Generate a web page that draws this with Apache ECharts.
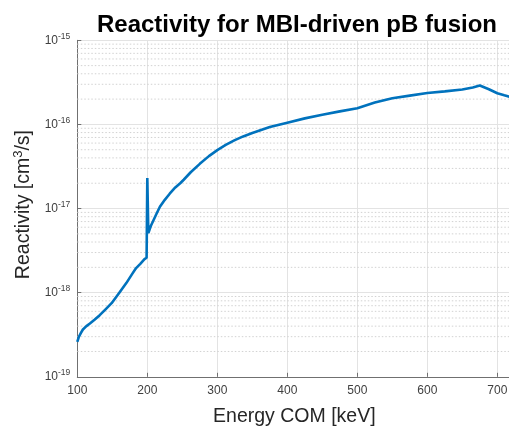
<!DOCTYPE html>
<html>
<head>
<meta charset="utf-8">
<script src="https://cdn.jsdelivr.net/npm/echarts@6/dist/echarts.min.js"></script>
<style>html,body{margin:0;padding:0;background:#fff;}#c{width:509px;height:426px;}</style>
</head>
<body>
<div id="c"></div>
<script>
const energy = [100,102,105,108,113,118,125,132,140,149,160,170,178,184,190,196,199,200,201.5,205,209,213,218,225,232,240,247,252,262,275,288,300,312,325,337,350,375,400,425,450,475,500,525,550,575,600,625,650,665,675,688,700,710,720];
const reactivity = [2.6e-19,2.95e-19,3.3e-19,3.65e-19,4.0e-19,4.3e-19,4.8e-19,5.4e-19,6.3e-19,7.5e-19,1.0e-18,1.3e-18,1.65e-18,1.96e-18,2.2e-18,2.5e-18,2.6e-18,2.3e-17,5.1e-18,6.2e-18,7.3e-18,8.6e-18,1.05e-17,1.27e-17,1.5e-17,1.78e-17,2.0e-17,2.2e-17,2.7e-17,3.4e-17,4.2e-17,4.95e-17,5.7e-17,6.5e-17,7.2e-17,7.9e-17,9.3e-17,1.05e-16,1.18e-16,1.3e-16,1.43e-16,1.56e-16,1.82e-16,2.05e-16,2.2e-16,2.36e-16,2.47e-16,2.6e-16,2.75e-16,2.9e-16,2.62e-16,2.35e-16,2.22e-16,2.1e-16];
const xTicks = [100,200,300,400,500,600,700];
const xRange = [100, 720];
const yDecades = [1e-19,1e-18,1e-17,1e-16,1e-15];
const minorMultipliers = [2,3,4,5,6,7,8,9];

const minorValues = [];
for (let d = 0; d < yDecades.length - 1; d++) {
  for (const m of minorMultipliers) minorValues.push(yDecades[d] * m);
}
const font = '"Liberation Sans", Arial, Helvetica, sans-serif';
const minorSeries = minorValues.map(v => ({
  type: 'line', silent: true, showSymbol: false, symbol: 'none', z: 1,
  data: [[xRange[0], v], [xRange[1], v]],
  lineStyle: { color: '#d2d2d2', type: [1.5, 2], width: 1 },
  emphasis: { disabled: true }, tooltip: { show: false }
}));
const chart = echarts.init(document.getElementById('c'));
chart.setOption({
  animation: false,
  title: {
    text: 'Reactivity for MBI-driven pB fusion',
    left: 292, textAlign: 'center', top: 8,
    textStyle: { fontFamily: font, fontWeight: 'bold', fontSize: 24, color: '#000' }
  },
  grid: { left: 77.3, top: 40.3, right: -2.3, bottom: 49.2, containLabel: false, outerBoundsMode: 'none' },
  xAxis: {
    type: 'value', min: xRange[0], max: xRange[1], interval: 100,
    name: 'Energy COM [keV]', nameLocation: 'middle', nameGap: 30,
    nameTextStyle: { fontFamily: font, fontSize: 19.5, color: '#262626' },
    axisLine: { lineStyle: { color: '#707070', width: 1 } },
    axisTick: { inside: true, length: 4, lineStyle: { color: '#707070' } },
    axisLabel: { fontFamily: font, fontSize: 12, color: '#404040', margin: 8,
      formatter: v => (xTicks.indexOf(v) >= 0 ? String(v) : ''), showMaxLabel: false },
    splitLine: { show: true, lineStyle: { color: '#e3e3e3', width: 1 } }
  },
  yAxis: {
    type: 'log', logBase: 10, min: 1e-19, max: 1e-15,
    name: 'Reactivity [cm{sup|3}/s]', nameLocation: 'middle', nameGap: 42,
    nameTextStyle: { fontFamily: font, fontSize: 19.5, color: '#262626', padding: [0, 0, 0, 8],
      rich: { sup: { fontFamily: font, fontSize: 13, color: '#262626', padding: [0,0,10,0] } } },
    axisLine: { show: true, lineStyle: { color: '#707070', width: 1 } },
    axisTick: { inside: true, length: 4, lineStyle: { color: '#707070' } },
    axisLabel: { fontFamily: font, fontSize: 12, color: '#404040', margin: 7,
      formatter: v => '{b|10}{s|' + Math.round(Math.log10(v)) + '}',
      rich: {
        b: { fontFamily: font, fontSize: 12, color: '#404040' },
        s: { fontFamily: font, fontSize: 8.5, color: '#404040', padding: [0,0,8,0] }
      } },
    splitLine: { show: true, lineStyle: { color: '#e3e3e3', width: 1 } }
  },
  series: minorSeries.concat([
    {
      type: 'line', showSymbol: false, symbol: 'none', smooth: false, z: 3,
      data: energy.map((e, i) => [e, reactivity[i]]),
      lineStyle: { color: '#0072BD', width: 2.6 },
      itemStyle: { color: '#0072BD' }
    }
  ])
});
</script>
</body>
</html>
